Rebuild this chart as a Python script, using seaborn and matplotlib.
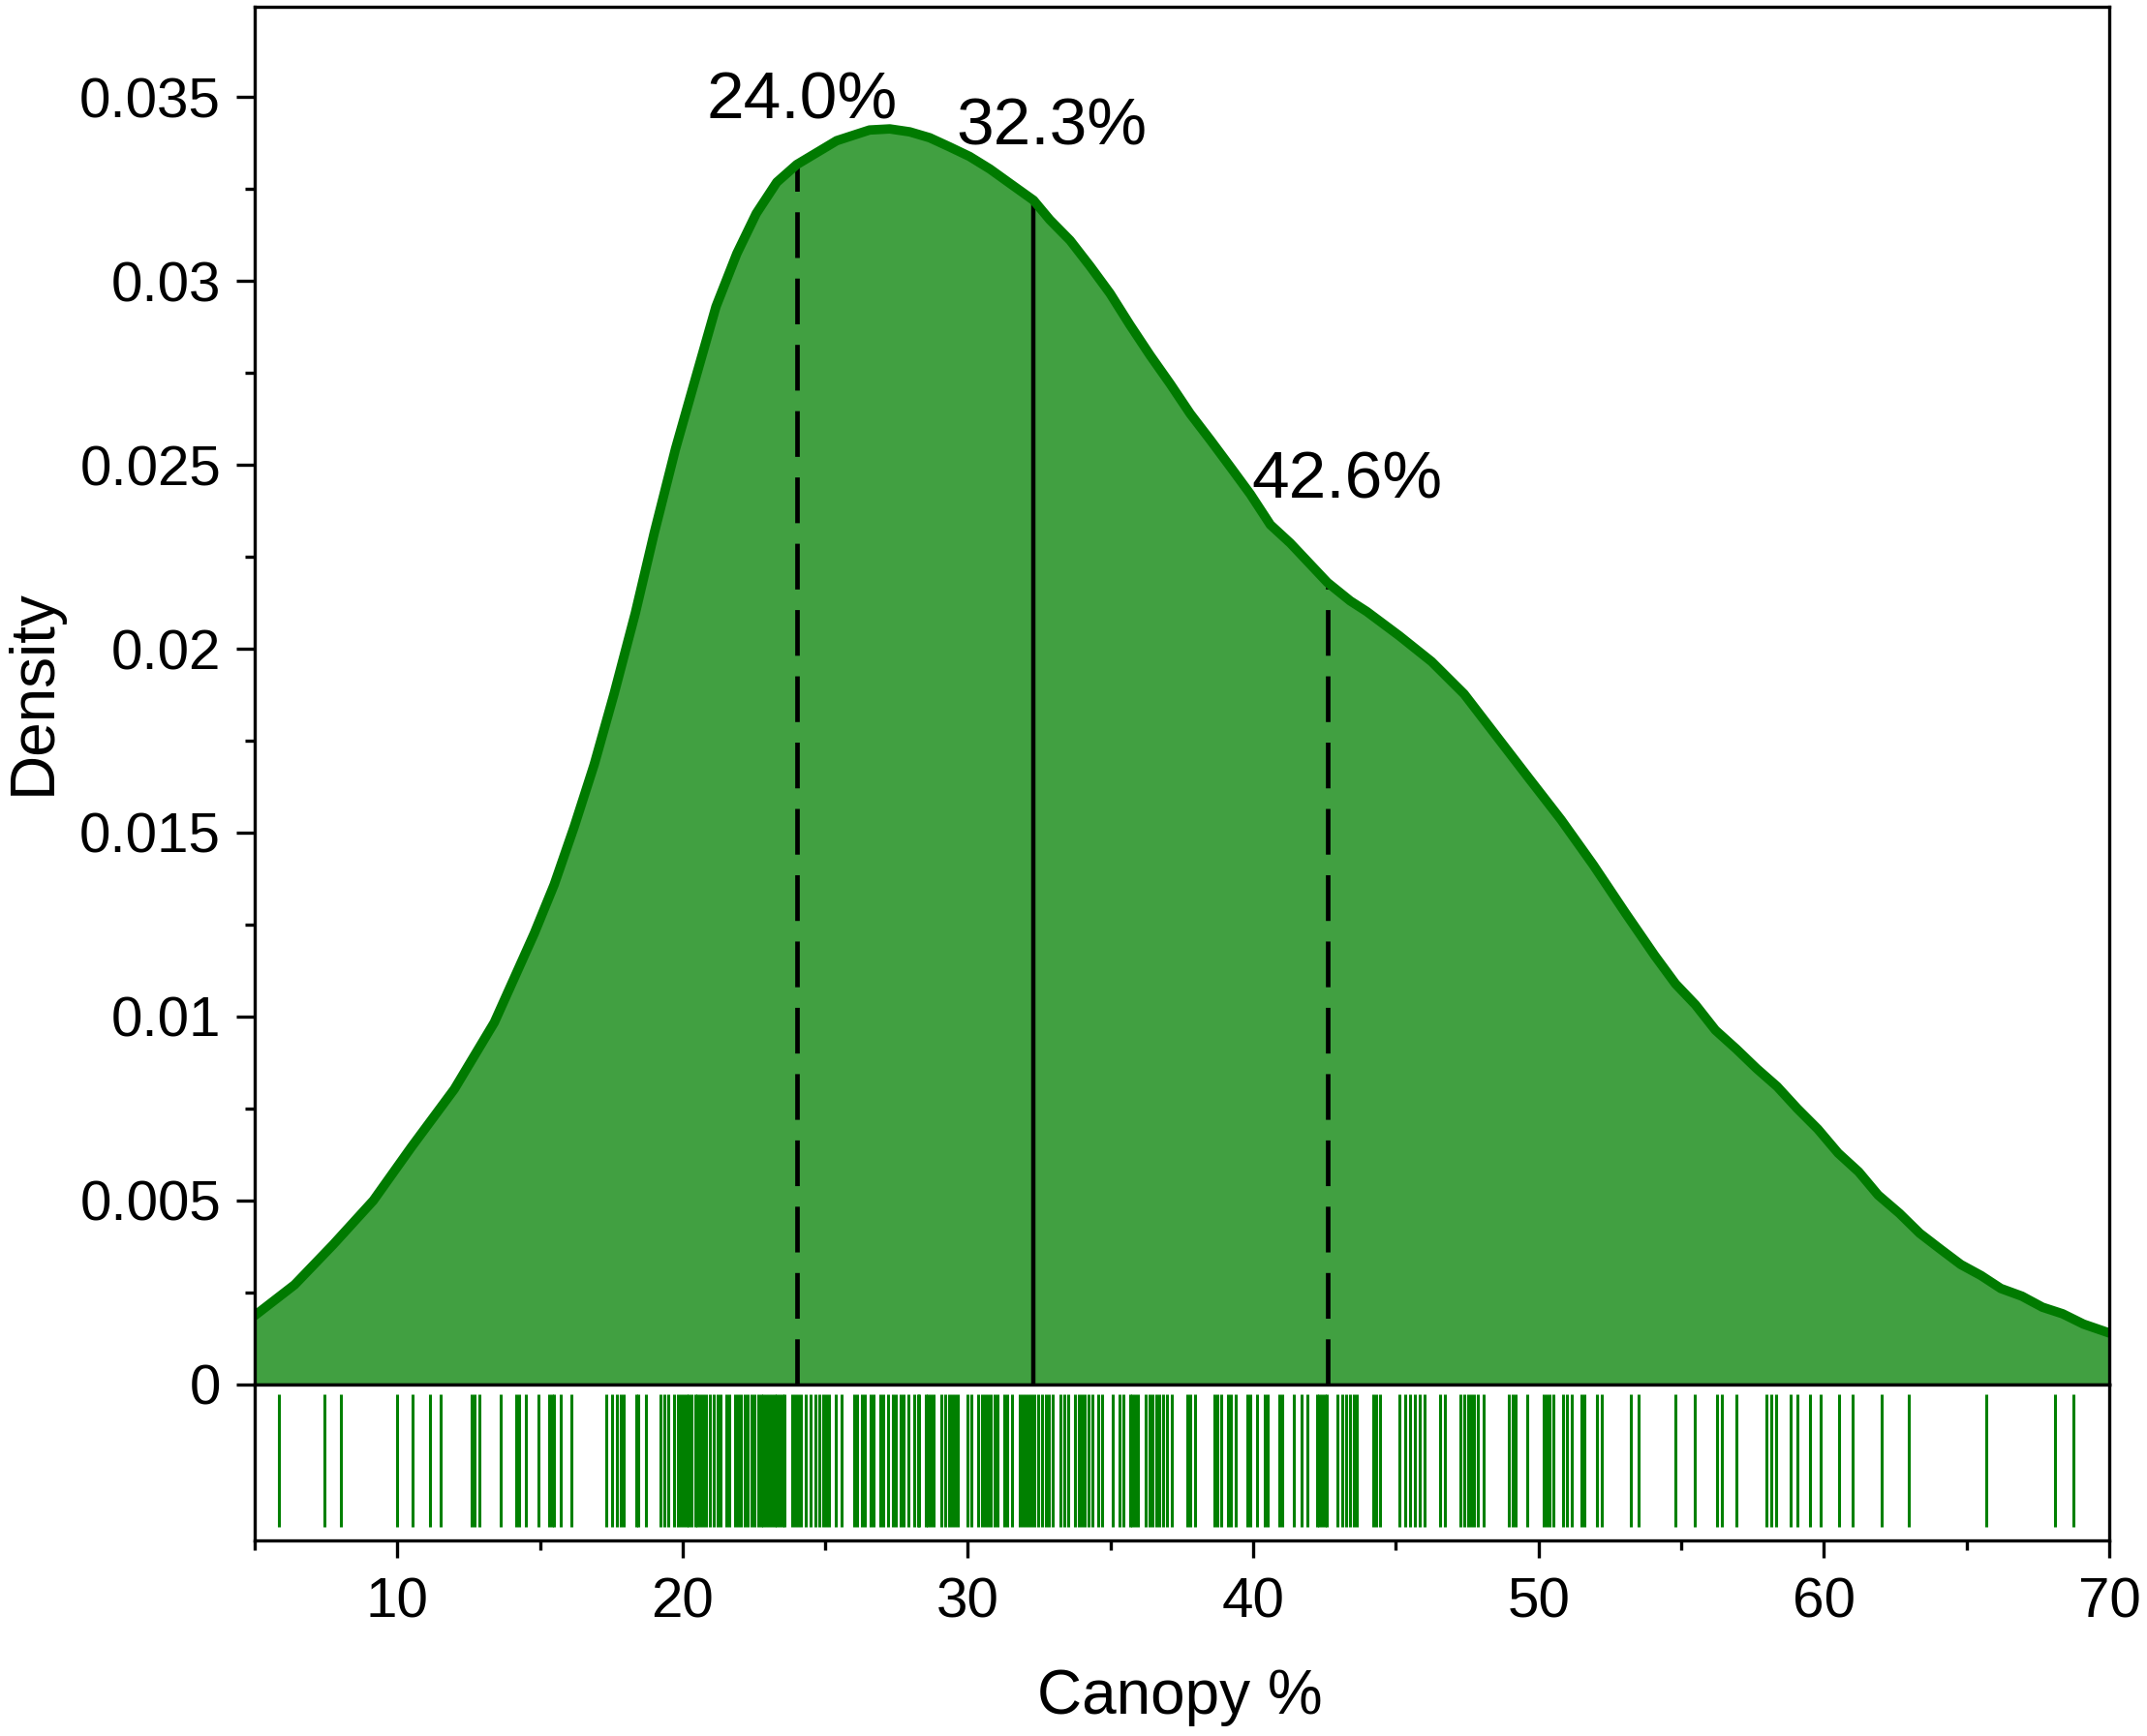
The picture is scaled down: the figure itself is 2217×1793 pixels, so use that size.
import numpy as np
import pandas as pd
import matplotlib
matplotlib.use('Agg')
import matplotlib.pyplot as plt
import seaborn as sns
from matplotlib.ticker import FixedLocator

# density curve
canopy_x = [5.0, 6.4, 7.75, 9.16, 10.5, 12.0, 13.4, 14.1, 14.8, 15.5, 16.2, 16.9,
            17.6, 18.34, 19.0, 19.75, 20.5, 21.17, 21.9, 22.58, 23.3, 24.0, 25.4,
            26.55, 27.26, 27.96, 28.66, 29.36, 30.06, 30.77, 31.47, 32.3, 32.87,
            33.58, 34.28, 34.98, 35.68, 36.39, 37.09, 37.79, 38.5, 39.2, 39.9, 40.6,
            41.3, 42.6, 43.4, 43.98, 45.12, 46.25, 47.39, 48.52, 49.65, 50.79, 51.92,
            53.05, 54.07, 54.8, 55.5, 56.2, 56.93, 57.64, 58.36, 59.07,
            59.79, 60.5, 61.22, 61.9, 62.65, 63.36, 64.08, 64.8, 65.51, 66.2, 66.94,
            67.66, 68.37, 69.1, 70.0]
density_y = [0.00187, 0.00271, 0.0038, 0.0050, 0.00646, 0.00803, 0.00984, 0.01105,
             0.01226, 0.01359, 0.01516, 0.01685, 0.01878, 0.02096, 0.02313, 0.02543,
             0.02748, 0.0293, 0.03074, 0.03183, 0.03268, 0.03316, 0.03381, 0.03410,
             0.03413, 0.03405, 0.03389, 0.03364, 0.03338, 0.03304, 0.03265, 0.03219,
             0.03166, 0.0311, 0.0304, 0.02966, 0.0288, 0.02797, 0.0272, 0.02639,
             0.02567, 0.02494, 0.0242, 0.02337, 0.02287, 0.0218, 0.0213, 0.02101,
             0.02035, 0.01965, 0.01877, 0.01763, 0.01649, 0.01535, 0.01412,
             0.01281, 0.01166, 0.01089, 0.01032, 0.00963, 0.00912, 0.00859,
             0.0081, 0.0075, 0.00694, 0.00629, 0.00578, 0.00515, 0.00465, 0.00411,
             0.00368, 0.00326, 0.00296, 0.00261, 0.0024, 0.0021, 0.00192, 0.00164,
             0.0014]

# quartiles and their labels
quartiles = [24.0, 32.3, 42.6]
quartile_dashed = [True, False, True]
quartile_labels = ['24.0%', '32.3%', '42.6%']
label_x = [24.2, 32.95, 43.28]
label_y = [0.0344, 0.0337, 0.0241]

# individual observations (rug)
rug_values = [
    5.85, 7.44, 8.03, 10.00, 10.53, 11.13, 11.53, 12.60, 12.72, 12.86, 13.63, 14.18,
    14.28, 14.51, 14.94, 15.32, 15.42, 15.49, 15.72, 16.10, 17.32, 17.52, 17.69, 17.84,
    17.95,
    18.37, 18.46, 18.71, 19.24, 19.35, 19.50, 19.70, 19.84, 19.92, 20.04, 20.13, 20.22,
    20.30, 20.45, 20.52, 20.62, 20.72, 20.81, 20.94, 21.09, 21.24, 21.33, 21.54, 21.63,
    21.85, 21.94, 22.04, 22.19, 22.28, 22.42, 22.51, 22.65, 22.74, 22.83, 22.94, 23.03,
    23.13, 23.22, 23.31, 23.40, 23.49, 23.58, 23.85, 23.94, 24.05, 24.14, 24.33, 24.50,
    24.64, 24.78, 24.92, 25.03, 25.12, 25.37, 25.58, 26.01, 26.12, 26.28, 26.40, 26.58,
    26.69, 26.92, 27.03, 27.19, 27.36, 27.48, 27.65, 27.76, 27.92, 28.10, 28.24, 28.30,
    28.51, 28.60, 28.69, 28.78, 29.08, 29.19, 29.35, 29.44, 29.55, 29.64, 29.98, 30.12,
    30.37, 30.48, 30.58, 30.71, 30.80, 30.94, 31.05, 31.28, 31.37, 31.55, 31.80, 31.92,
    32.03, 32.11, 32.22, 32.34, 32.45, 32.60, 32.73, 32.85, 32.96, 33.25, 33.39, 33.53,
    33.76, 33.87, 33.98, 34.10, 34.21, 34.35, 34.55, 34.69, 35.06, 35.32, 35.46, 35.67,
    35.74, 35.86, 35.97, 36.23, 36.37, 36.48, 36.60, 36.71, 36.85, 36.96, 37.16, 37.68,
    37.79, 37.96, 38.64, 38.75, 38.89, 39.10, 39.21, 39.38, 39.80, 39.89, 40.12, 40.40,
    40.51, 40.91, 41.00, 41.42, 41.71, 41.91, 42.22, 42.30, 42.39, 42.50, 42.58, 42.96,
    43.13, 43.24, 43.39, 43.52, 43.64, 44.21, 44.32, 44.43, 45.11, 45.34,
    45.48, 45.65, 45.82, 45.99, 46.56, 46.73, 47.26, 47.41, 47.52, 47.63, 47.75, 47.86,
    48.09, 48.94, 49.08, 49.19, 49.60, 50.17, 50.28, 50.39, 50.51, 50.87, 50.99, 51.16,
    51.50, 51.61, 52.06, 52.23, 53.23, 53.51, 54.79, 55.47, 56.27, 56.44, 56.95, 57.97,
    58.14, 58.31, 58.82,
    59.06, 59.51, 59.89, 60.53, 61.02, 62.01, 62.98, 65.68, 68.09, 68.74,
]

y_ticks = [0, 0.005, 0.01, 0.015, 0.02, 0.025, 0.03, 0.035]
y_tick_labels = ['0', '0.005', '0.01', '0.015', '0.02', '0.025', '0.03', '0.035']
y_minor = [0.0025, 0.0075, 0.0125, 0.0175, 0.0225, 0.0275, 0.0325]
x_ticks = [10, 20, 30, 40, 50, 60, 70]
x_minor = [5, 15, 25, 35, 45, 55, 65]

fill_col = '#41a041'
line_col = '#007a00'
rug_col = '#008000'

sns.set_style('ticks')
plt.rcParams['font.family'] = ['Liberation Sans', 'DejaVu Sans']
plt.rcParams.update({
    'axes.linewidth': 2.4,
    'axes.edgecolor': 'black',
    'text.color': 'black',
    'axes.labelcolor': 'black',
    'xtick.color': 'black',
    'ytick.color': 'black',
})

fig = plt.figure(figsize=(22.17, 17.93), dpi=100)
ax = fig.add_axes([0.1186, 0.2025, 0.8638, 0.7936])
ax_rug = fig.add_axes([0.1186, 0.1127, 0.8638, 0.0898])

curve = pd.DataFrame({'canopy': canopy_x, 'density': density_y})

# filled density
ax.fill_between(curve['canopy'], 0, curve['density'], color=fill_col, lw=0, zorder=1)

# quartile lines, up to the curve
for q, dashed in zip(quartiles, quartile_dashed):
    top = np.interp(q, curve['canopy'], curve['density'])
    if dashed:
        ax.plot([q, q], [0, top], color='black', lw=3.4, dashes=(10, 4.5), zorder=1.5)
    else:
        ax.plot([q, q], [0, top], color='black', lw=3.2, zorder=1.5)

sns.lineplot(data=curve, x='canopy', y='density', color=line_col, lw=7, ax=ax, zorder=2)

for txt, tx, ty in zip(quartile_labels, label_x, label_y):
    ax.text(tx, ty, txt, ha='center', va='baseline', fontsize=50, color='black')

ax.set_xlim(5, 70)
ax.set_ylim(0, 0.03745)
ax.yaxis.set_major_locator(FixedLocator(y_ticks))
ax.set_yticklabels(y_tick_labels)
ax.yaxis.set_minor_locator(FixedLocator(y_minor))
ax.tick_params(axis='y', which='major', length=14, width=2.4, labelsize=42, pad=11, direction='out')
ax.tick_params(axis='y', which='minor', length=7, width=2.4, direction='out')
ax.tick_params(axis='x', which='both', bottom=False, labelbottom=False)
ax.set_xlabel('')
ax.set_ylabel('Density', fontsize=46, va='center')
ax.yaxis.set_label_coords(-0.119, 0.503)
for sp in ax.spines.values():
    sp.set_visible(True)
    sp.set_linewidth(2.4)

# rug panel
ax_rug.vlines(rug_values, 0.087, 0.938, transform=ax_rug.get_xaxis_transform(),
              colors=rug_col, lw=2.2)
ax_rug.set_xlim(5, 70)
ax_rug.set_ylim(0, 1)
ax_rug.set_yticks([])
ax_rug.xaxis.set_major_locator(FixedLocator(x_ticks))
ax_rug.xaxis.set_minor_locator(FixedLocator(x_minor))
ax_rug.tick_params(axis='x', which='major', length=13, width=2.4, labelsize=42, pad=14, direction='out')
ax_rug.tick_params(axis='x', which='minor', length=7, width=2.4, direction='out')
ax_rug.set_xlabel('Canopy %', fontsize=46, va='center')
ax_rug.xaxis.set_label_coords(0.499, -1.006)
for sp in ax_rug.spines.values():
    sp.set_visible(True)
    sp.set_linewidth(2.4)

fig.savefig('out.png', dpi=100)
